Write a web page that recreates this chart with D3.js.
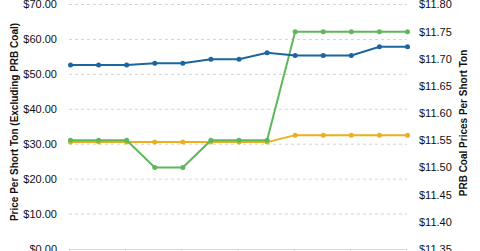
<!DOCTYPE html>
<html>
<head>
<meta charset="utf-8">
<script src="https://cdn.jsdelivr.net/npm/d3@7"></script>
<style>
  body { margin: 0; background: #fff; }
  text { font-family: "Liberation Sans", Arial, sans-serif; fill: #111; }
</style>
</head>
<body>
<div id="chart"></div>
<script>
// weekly points, labels fall below the visible area
const weeks = d3.range(13);
const blueVals = [52.7, 52.7, 52.7, 53.2, 53.2, 54.3, 54.3, 56.2, 55.4, 55.4, 55.4, 57.9, 57.9];
const yellowVals = [30.6, 30.6, 30.6, 30.6, 30.6, 30.6, 30.6, 30.6, 32.6, 32.6, 32.6, 32.6, 32.6];
const prbVals = [11.55, 11.55, 11.55, 11.50, 11.50, 11.55, 11.55, 11.55, 11.75, 11.75, 11.75, 11.75, 11.75];
const leftTicks = [0, 10, 20, 30, 40, 50, 60, 70];
const rightTicks = [11.35, 11.40, 11.45, 11.50, 11.55, 11.60, 11.65, 11.70, 11.75, 11.80];

const w = 480, h = 251;
const svg = d3.select("#chart").append("svg")
  .attr("width", w)
  .attr("height", h);

const x = d3.scalePoint().domain(weeks).range([70.5, 407.5]);
const yL = d3.scaleLinear().domain([0, 70]).range([249, 4.5]);
const yR = d3.scaleLinear().domain([11.35, 11.80]).range([249, 4.5]);

// grid
svg.append("g")
  .selectAll("line")
  .data(leftTicks.filter(d => d > 0))
  .enter().append("line")
  .attr("x1", 69).attr("x2", 407)
  .attr("y1", d => yL(d)).attr("y2", d => yL(d))
  .attr("stroke", "#d4d4d4")
  .attr("stroke-dasharray", "3,3");

// left axis labels
svg.append("g")
  .selectAll("text")
  .data(leftTicks)
  .enter().append("text")
  .attr("x", 57).attr("y", d => yL(d))
  .attr("dy", "0.35em")
  .attr("text-anchor", "end")
  .attr("font-size", 11)
  .text(d => "$" + d.toFixed(2));

// right axis labels
svg.append("g")
  .selectAll("text")
  .data(rightTicks)
  .enter().append("text")
  .attr("x", 419).attr("y", d => yR(d))
  .attr("dy", "0.35em")
  .attr("text-anchor", "start")
  .attr("font-size", 11)
  .text(d => "$" + d.toFixed(2));

// bottom axis
const xAxis = d3.axisBottom(x)
  .tickValues(weeks.filter(d => d % 2 == 0))
  .tickSize(5)
  .tickFormat("");
const gx = svg.append("g")
  .attr("transform", "translate(-1.5," + 249.5 + ")")
  .call(xAxis);
gx.select(".domain").attr("stroke", "#d9d9d9").attr("d", "M70.5,0H408.5");
gx.selectAll(".tick line").attr("stroke", "#d9d9d9");

// axis titles
svg.append("text")
  .attr("transform", "translate(18,122) rotate(-90)")
  .attr("text-anchor", "middle")
  .attr("font-size", 10)
  .attr("font-weight", "bold")
  .text("Price Per Short Ton (Excluding PRB Coal)");

svg.append("text")
  .attr("transform", "translate(467,123) rotate(-90)")
  .attr("text-anchor", "middle")
  .attr("font-size", 10)
  .attr("font-weight", "bold")
  .text("PRB Coal Prices Per Short Ton");

// series
const series = [
  { vals: yellowVals, y: yL, color: "#ebb01c" },
  { vals: prbVals, y: yR, color: "#5db85a" },
  { vals: blueVals, y: yL, color: "#1b65a0" }
];

series.forEach(function(s) {
  const line = d3.line()
    .x((d, i) => x(i))
    .y(d => s.y(d));

  svg.append("path")
    .datum(s.vals)
    .attr("d", line)
    .attr("fill", "none")
    .attr("stroke", s.color)
    .attr("stroke-width", 2);

  svg.append("g")
    .selectAll("circle")
    .data(s.vals)
    .enter().append("circle")
    .attr("cx", (d, i) => x(i))
    .attr("cy", d => s.y(d))
    .attr("r", 2.5)
    .attr("fill", s.color);
});
</script>
</body>
</html>
